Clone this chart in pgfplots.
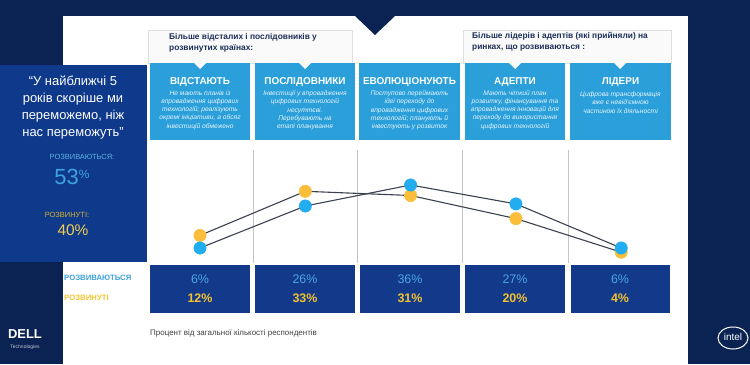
\documentclass[border=0pt]{standalone}
\usepackage{pgfplots}
\pgfplotsset{compat=1.18}
\usepackage{pgfplotstable}
\usepackage{fontspec}
\setmainfont{Liberation Sans}
\definecolor{navy}{HTML}{0B2352}
\definecolor{qbox}{HTML}{0F3A8C}
\definecolor{catblue}{HTML}{2A9FDA}
\definecolor{tbl}{HTML}{13398A}
\definecolor{dotblue}{HTML}{22ADF0}
\definecolor{dotyel}{HTML}{FBBE3A}
\definecolor{lbblue}{HTML}{3DA3DE}
\definecolor{lbyel}{HTML}{EFC531}
\definecolor{numblue}{HTML}{4AA6E4}
\definecolor{numyel}{HTML}{F3C22F}
\definecolor{hdr}{HTML}{1C2E57}
\definecolor{lineg}{HTML}{3C4150}

\pgfplotstableread{
x dev devd
0 6 12
1 26 33
2 36 31
3 27 20
4 6 4
}\datatable

\begin{document}
\begin{tikzpicture}[x=1bp,y=1bp]
\fill[navy] (0,0) rectangle (750,364);
\useasboundingbox (0,0) rectangle (750,364);
\begin{scope}[shift={(0,364)}, y=-1bp]
  % white canvas
  \fill[white] (63,16) rectangle (688,364);
  \fill[navy] (355,16) -- (395,16) -- (375,35) -- cycle;
  % quote box
  \fill[qbox] (0,65) rectangle (147,262);
  % header boxes
  \filldraw[fill=gray!4, draw=gray!25] (148,30) rectangle (352,63);
  \filldraw[fill=gray!4, draw=gray!25] (463,30) rectangle (671,63);
  % category boxes
  \fill[catblue] (150,63) rectangle (250,140);
  \fill[catblue] (255,63) rectangle (355,140);
  \fill[catblue] (359,63) rectangle (460,140);
  \fill[catblue] (465,63) rectangle (565,140);
  \fill[catblue] (570,63) rectangle (671,140);
  \foreach \c in {200,305,515,620}{
    \fill[gray!4] (\c-6,63) -- (\c+6,63) -- (\c,69) -- cycle;
  }
  % separators
  \foreach \xx in {253,357,462,568}{
    \draw[gray!45, line width=0.6bp] (\xx,150) -- (\xx,263);
  }
  % bottom boxes
  \fill[tbl] (150,265) rectangle (250,313);
  \fill[tbl] (255,265) rectangle (355,313);
  \fill[tbl] (360,265) rectangle (460,313);
  \fill[tbl] (465,265) rectangle (565,313);
  \fill[tbl] (571,265) rectangle (670,313);
  % header texts
  \node[anchor=north west, inner sep=0, align=left, text=hdr, font=\bfseries\fontsize{8.4}{10.5}\selectfont] at (169,33.5) {Більше відсталих і послідовників у\\розвинутих країнах:};
  \node[anchor=north west, inner sep=0, align=left, text=hdr, font=\bfseries\fontsize{8.4}{10.5}\selectfont] at (472,32.5) {Більше лідерів і адептів (які прийняли) на\\ринках, що розвиваються :};
  % category titles
  \tikzset{ct/.style={text=white, inner sep=0, font=\bfseries\fontsize{10}{10}\selectfont},
           cd/.style={anchor=north, inner sep=0, align=center, text=white!88!catblue, font=\itshape\fontsize{6.7}{8.3}\selectfont}}
  \node[ct] at (200,82) {ВІДСТАЮТЬ};
  \node[ct] at (305,82) {ПОСЛІДОВНИКИ};
  \node[ct] at (409.5,82) {ЕВОЛЮЦІОНУЮТЬ};
  \node[ct] at (515,82) {АДЕПТИ};
  \node[ct] at (620.5,82) {ЛІДЕРИ};
  \node[cd] at (200,90) {Не мають планів із\\впровадження цифрових\\технологій; реалізують\\окремі ініціативи, а обсяг\\інвестицій обмежено};
  \node[cd] at (305,90.5) {Інвестиції у впровадження\\цифрових технологій\\несуттєві.\\Перебувають на\\етапі планування};
  \node[cd] at (409.5,90.5) {Поступово переймають\\ідеї переходу до\\впровадження цифрових\\технологій; планують й\\інвестують у розвиток};
  \node[cd] at (515,90) {Мають чіткий план\\розвитку, фінансування та\\впровадження інновацій для\\переходу до використання\\цифрових технологій};
  \node[cd] at (620.5,91.5) {Цифрова трансформація\\вже є невід'ємною\\частиною їх діяльності};
  % quote
  \node[anchor=north, inner sep=0, align=center, text=white, font=\fontsize{13}{17}\selectfont] at (73,76) {“У найближчі 5\\років скоріше ми\\переможемо, ніж\\нас переможуть”};
  \node[inner sep=0, text=lbblue!85!white, font=\fontsize{7.5}{7.5}\selectfont] at (82,157) {РОЗВИВАЮТЬСЯ:};
  \node[inner sep=0, text=lbblue] at (72,177) {{\fontsize{22}{22}\selectfont 53}\raisebox{6bp}{\fontsize{12}{12}\selectfont\%}};
  \node[inner sep=0, text=lbyel!90!black, font=\fontsize{7.5}{7.5}\selectfont] at (67,215) {РОЗВИНУТІ:};
  \node[inner sep=0, text=lbyel!85!white, font=\fontsize{15.5}{15.5}\selectfont] at (73,230) {40\%};
  % left labels for table
  \node[anchor=west, inner sep=0, text=lbblue, font=\bfseries\fontsize{7.8}{7.8}\selectfont] at (64,278) {РОЗВИВАЮТЬСЯ};
  \node[anchor=west, inner sep=0, text=lbyel, font=\bfseries\fontsize{7.8}{7.8}\selectfont] at (64,298) {РОЗВИНУТІ};
  % table numbers
  \foreach \c/\b/\y in {200/6/12, 305/26/33, 410/36/31, 515/27/20, 620/6/4}{
    \node[inner sep=0, text=numblue, font=\fontsize{12.5}{12.5}\selectfont] at (\c,279) {\b\%};
    \node[inner sep=0, text=numyel, font=\bfseries\fontsize{12.5}{12.5}\selectfont] at (\c,298) {\y\%};
  }
  % footnote
  \node[anchor=west, inner sep=0, text=black!75, font=\fontsize{8}{8}\selectfont] at (150,333) {Процент від загальної кількості респондентів};
  % logos
  \node[inner sep=0, text=white, font=\bfseries\fontsize{13}{13}\selectfont] at (25,334) {DELL};
  \node[inner sep=0, text=white!75!navy, font=\fontsize{5}{5}\selectfont] at (25,347) {Technologies};
  \draw[white, line width=1bp] (733,338) ellipse [x radius=15, y radius=11];
  \node[inner sep=0, text=white, font=\fontsize{10}{10}\selectfont] at (733,337) {intel};
\end{scope}
\begin{axis}[at={(200bp,103.4bp)}, anchor=origin, scale only axis, hide axis,
  width=526.5bp, height=94.5bp, xmin=-0.5, xmax=4.5, ymin=0, ymax=45,
  enlargelimits=false, clip=false]
  \addplot[lineg, line width=1.1bp, mark=none] table[x=x, y=devd] {\datatable};
  \addplot[lineg, line width=1.1bp, mark=none] table[x=x, y=dev] {\datatable};
  \addplot[color=dotyel, only marks, mark=*, mark size=6.2pt, mark options={solid, fill=dotyel, draw=dotyel, line width=0.5pt}] table[x=x, y=devd] {\datatable};
  \addplot[color=dotblue, only marks, mark=*, mark size=6.2pt, mark options={solid, fill=dotblue, draw=dotblue, line width=0.5pt}] table[x=x, y=dev] {\datatable};
\end{axis}
\end{tikzpicture}
\end{document}
